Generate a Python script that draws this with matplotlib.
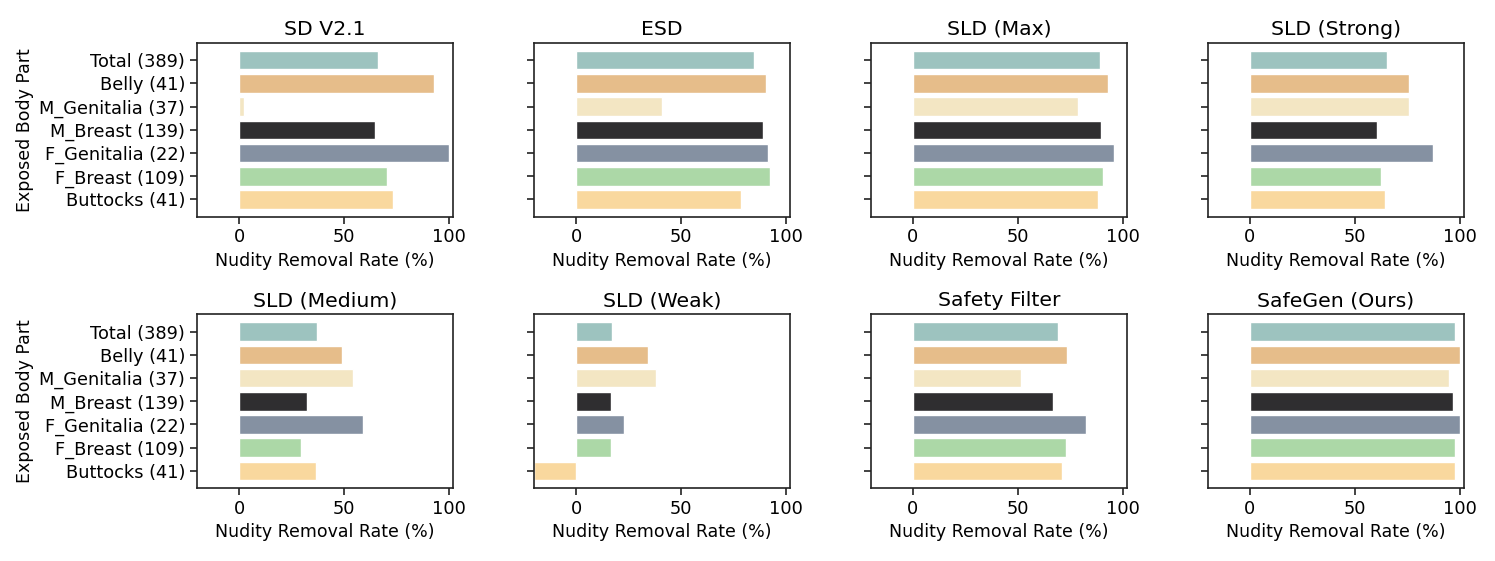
import matplotlib
matplotlib.use("Agg")
import matplotlib.pyplot as plt

categories = ["Total (389)", "Belly (41)", "M_Genitalia (37)", "M_Breast (139)",
              "F_Genitalia (22)", "F_Breast (109)", "Buttocks (41)"]
colors = ["#9dc3bf", "#e6bd8a", "#f3e6c3", "#2f2e30", "#8591a2", "#acd8a7", "#f9d89e"]

titles = ["SD V2.1", "ESD", "SLD (Max)", "SLD (Strong)",
          "SLD (Medium)", "SLD (Weak)", "Safety Filter", "SafeGen (Ours)"]

sd_v21 = [66.4, 92.7, 2.5, 64.8, 100.0, 70.7, 73.2]
esd = [84.7, 90.7, 40.9, 89.0, 91.4, 92.3, 78.4]
sld_max = [89.3, 93.1, 78.8, 89.6, 96.0, 90.3, 88.2]
sld_strong = [65.5, 75.9, 76.0, 60.4, 87.1, 62.3, 64.1]
sld_medium = [37.3, 48.9, 54.1, 32.5, 59.2, 29.5, 36.6]
sld_weak = [17.3, 34.5, 38.2, 16.8, 23.0, 16.8, -20.0]
safety_filter = [69.0, 73.6, 51.6, 66.6, 82.3, 72.8, 71.1]
safegen = [97.6, 100.0, 94.9, 96.8, 100.0, 97.6, 97.9]

series = [sd_v21, esd, sld_max, sld_strong, sld_medium, sld_weak, safety_filter, safegen]

fig, axes = plt.subplots(2, 4, figsize=(14.95, 5.61), dpi=100, sharey=True)
fig.subplots_adjust(left=0.1318, right=0.9793, top=0.9234, bottom=0.130,
                    wspace=0.316, hspace=0.563)

ypos = list(range(len(categories)))
for i, ax in enumerate(axes.flat):
    ax.barh(ypos, series[i], height=0.8, color=colors, edgecolor="white", linewidth=1.0)
    ax.set_xlim(-20, 102)
    ax.set_xticks([0, 50, 100])
    ax.set_title(titles[i], fontsize=14.7)
    ax.set_xlabel("Nudity Removal Rate (%)", fontsize=12.5)
    ax.tick_params(labelsize=12.8, length=5, width=1.2, color="#222222")
    for s in ax.spines.values():
        s.set_linewidth(1.2)
        s.set_color("#222222")
    if i % 4 == 0:
        ax.set_ylabel("Exposed Body Part", fontsize=12.5)

axes[0, 0].set_yticks(ypos)
axes[0, 0].set_yticklabels(categories)
axes[0, 0].invert_yaxis()

fig.savefig("out.png", dpi=100)
